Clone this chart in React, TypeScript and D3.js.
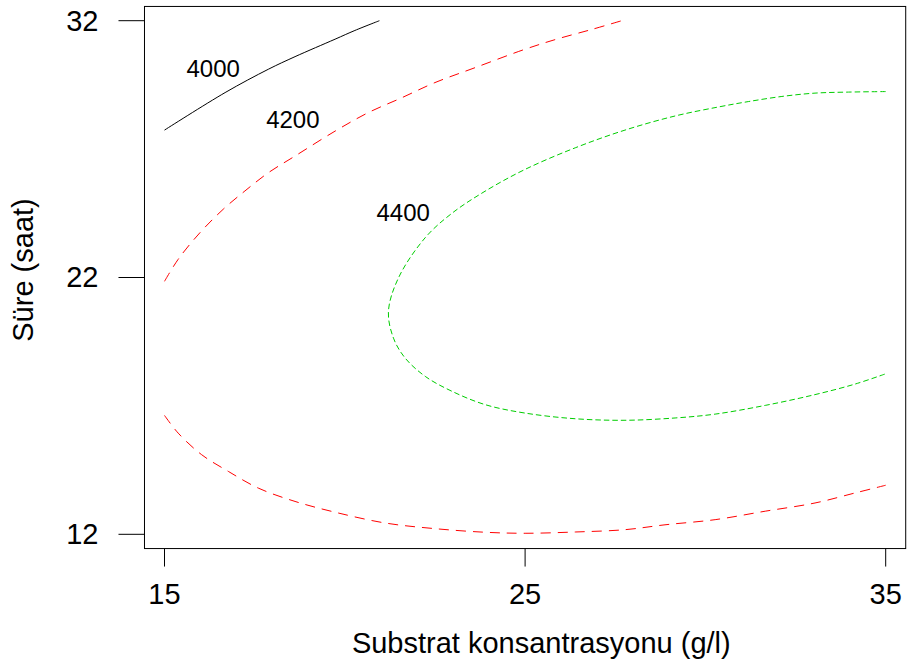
import React from "react";
import * as d3 from "d3";

// Contour levels and line styles
const levels = ["4000", "4200", "4400"];

// Contour paths: [substrate g/l, time h]
const contour4000: [number, number][] = [
  [15.0, 27.74], [16.68, 29.2], [17.88, 30.11], [18.62, 30.6], [19.73, 31.28], [20.28, 31.62], [20.96, 32.0],
];
const contour4200Upper: [number, number][] = [
  [15.0, 21.85], [15.38, 22.71], [15.98, 23.74], [16.63, 24.66], [17.23, 25.37], [17.88, 26.08], [18.62, 26.73],
  [19.73, 27.7], [20.65, 28.42], [21.58, 29.0], [22.5, 29.59], [23.61, 30.17], [25.0, 30.89], [25.92, 31.3],
  [26.85, 31.66], [27.68, 32.0],
];
const contour4200Lower: [number, number][] = [
  [15.0, 16.63], [15.38, 15.94], [16.03, 15.1], [16.77, 14.45], [17.6, 13.8], [18.62, 13.28], [19.73, 12.86],
  [21.12, 12.44], [22.5, 12.22], [23.89, 12.08], [25.0, 12.04], [26.39, 12.09], [27.77, 12.18], [28.88, 12.37],
  [30.27, 12.57], [31.66, 12.9], [33.04, 13.22], [34.15, 13.61], [35.0, 13.91],
];
const contour4400: [number, number][] = [
  [35.0, 29.24], [33.97, 29.22], [33.04, 29.18], [32.12, 29.05], [31.19, 28.85], [30.36, 28.64], [29.16, 28.29],
  [27.77, 27.74], [26.39, 27.05], [25.0, 26.21], [23.89, 25.36], [22.97, 24.5], [22.23, 23.55], [21.49, 21.99],
  [21.21, 20.68], [21.35, 19.64], [21.67, 18.87], [22.23, 18.15], [22.97, 17.57], [23.89, 17.05], [25.0, 16.72],
  [26.39, 16.5], [27.77, 16.44], [29.16, 16.53], [30.27, 16.68], [31.66, 17.02], [33.04, 17.44], [34.15, 17.85],
  [35.0, 18.25],
];

// Label positions (data coords of label centre)
const labelPos: [number, number][] = [
  [16.35, 30.16], [18.56, 28.14], [21.62, 24.54],
];

const xTicks = [15, 25, 35];
const yTicks = [12, 22, 32];

const xTitle = "Substrat konsantrasyonu (g/l)";
const yTitle = "Süre (saat)";

export default function App() {
  const W = 908, H = 668;
  const x = d3.scaleLinear().domain([15, 35]).range([164.5, 885.7]);
  const y = d3.scaleLinear().domain([12, 32]).range([534.3, 20.7]);
  const ext = 0.555;
  const bx0 = x(15 - ext), bx1 = x(35 + ext);
  const by0 = y(32 + ext), by1 = y(12 - ext);

  const line = d3
    .line<[number, number]>()
    .x((d) => x(d[0]))
    .y((d) => y(d[1]))
    .curve(d3.curveCatmullRom.alpha(0.5));

  const font = "'Liberation Sans', Arial, Helvetica, sans-serif";

  const series = [
    { data: contour4000, color: "#000000", dash: undefined as string | undefined },
    { data: contour4200Upper, color: "#FF0000", dash: "10 7" },
    { data: contour4200Lower, color: "#FF0000", dash: "10 7" },
    { data: contour4400, color: "#00CD00", dash: "5.5 3" },
  ];

  return (
    <svg
      width={W}
      height={H}
      style={{ position: "absolute", left: 0, top: 0, background: "#fff" }}
      fontFamily={font}
    >
      <rect x={0} y={0} width={W} height={H} fill="#fff" />
      <defs>
        <clipPath id="plotclip">
          <rect x={bx0} y={by0} width={bx1 - bx0} height={by1 - by0} />
        </clipPath>
      </defs>
      <g clipPath="url(#plotclip)">
        {series.map((s, i) => (
          <path
            key={i}
            d={line(s.data) || ""}
            fill="none"
            stroke={s.color}
            strokeWidth={1}
            strokeDasharray={s.dash}
          />
        ))}
      </g>
      {levels.map((l, i) => (
        <text
          key={l}
          x={x(labelPos[i][0])}
          y={y(labelPos[i][1]) + 24 * 0.358}
          fontSize={24}
          textAnchor="middle"
          fill="#000"
        >
          {l}
        </text>
      ))}
      <rect
        x={bx0}
        y={by0}
        width={bx1 - bx0}
        height={by1 - by0}
        fill="none"
        stroke="#000"
        strokeWidth={1}
      />
      {xTicks.map((t) => (
        <g key={"x" + t}>
          <line x1={x(t)} x2={x(t)} y1={by1} y2={by1 + 18} stroke="#000" strokeWidth={1} />
          <text x={x(t)} y={604} fontSize={29} textAnchor="middle" fill="#000">
            {t}
          </text>
        </g>
      ))}
      {yTicks.map((t) => (
        <g key={"y" + t}>
          <line x1={bx0 - 26} x2={bx0} y1={y(t)} y2={y(t)} stroke="#000" strokeWidth={1} />
          <text x={98.5} y={y(t) + 9.8} fontSize={29} textAnchor="end" fill="#000">
            {t}
          </text>
        </g>
      ))}
      <text x={541.3} y={653} fontSize={29} textAnchor="middle" fill="#000">
        {xTitle}
      </text>
      <text
        transform={`translate(33.3, 270) rotate(-90)`}
        fontSize={29}
        textAnchor="middle"
        fill="#000"
      >
        {yTitle}
      </text>
    </svg>
  );
}
